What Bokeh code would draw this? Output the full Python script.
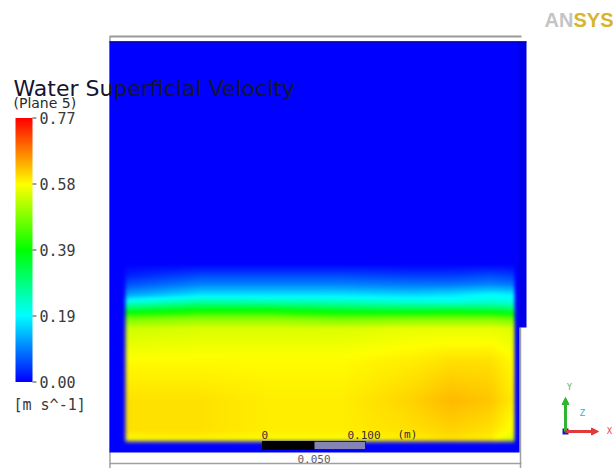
import numpy as np
from bokeh.plotting import figure
from bokeh.models import Range1d, Arrow, NormalHead
from bokeh.core.properties import value
from bokeh.embed import file_html
from bokeh.resources import INLINE

W, H = 613, 468
VMIN, VMAX = 0.0, 0.77

# ---------------- data ----------------
title = "Water Superficial Velocity"
subtitle = "(Plane 5)"
units = "[m s^-1]"
cbar_tick_values = [0.0, 0.1925, 0.385, 0.5775, 0.77]
cbar_tick_labels = ["0.00", "0.19", "0.39", "0.58", "0.77"]
scale_labels = ["0", "0.100", "(m)", "0.050"]
logo_parts = ["AN", "SYS"]

# coarse velocity grid inside the water region: columns (page x px), rows (page y px), m/s
field_x = [124, 200, 270, 340, 410, 450, 490, 514]
field_y = [41, 264, 274, 284, 294, 302, 310, 318, 328, 360, 400, 430, 452]
field_v = [
    [0.00, 0.00, 0.00, 0.00, 0.00, 0.00, 0.00, 0.00],
    [0.00, 0.00, 0.00, 0.00, 0.00, 0.00, 0.00, 0.00],
    [0.02, 0.05, 0.05, 0.05, 0.04, 0.04, 0.05, 0.04],
    [0.06, 0.10, 0.10, 0.10, 0.09, 0.09, 0.10, 0.09],
    [0.12, 0.17, 0.17, 0.17, 0.16, 0.17, 0.19, 0.18],
    [0.22, 0.27, 0.26, 0.25, 0.23, 0.22, 0.23, 0.22],
    [0.35, 0.39, 0.39, 0.36, 0.35, 0.36, 0.35, 0.33],
    [0.47, 0.49, 0.49, 0.47, 0.48, 0.48, 0.48, 0.46],
    [0.54, 0.55, 0.55, 0.55, 0.56, 0.56, 0.56, 0.55],
    [0.58, 0.58, 0.58, 0.58, 0.59, 0.60, 0.60, 0.58],
    [0.60, 0.60, 0.59, 0.59, 0.61, 0.63, 0.62, 0.59],
    [0.60, 0.60, 0.59, 0.59, 0.60, 0.61, 0.60, 0.57],
    [0.55, 0.56, 0.56, 0.56, 0.57, 0.58, 0.57, 0.50],
]
# wall boundaries of the water region (page px): left, right, bottom
wall_left, wall_right, wall_bottom = 125, 514, 441

# rainbow colour map stops (ANSYS default)
cmap_t = [0.0, 0.25, 0.5, 0.75, 1.0]
cmap_rgb = [(0, 0, 255), (0, 255, 255), (0, 255, 0), (255, 255, 0), (255, 0, 0)]


def Y(py):
    return H - py


def to_rgb(v):
    t = np.clip((np.asarray(v, float) - VMIN) / (VMAX - VMIN), 0, 1)
    return np.stack([np.interp(t, cmap_t, [c[k] for c in cmap_rgb]) for k in range(3)], axis=-1)


def blur(img, sigma):
    r = max(1, int(3 * sigma))
    k = np.exp(-0.5 * (np.arange(-r, r + 1) / sigma) ** 2)
    k /= k.sum()
    p = np.pad(img, ((r, r), (0, 0), (0, 0)), mode="edge")
    out = sum(k[i] * p[i:i + img.shape[0]] for i in range(2 * r + 1))
    p = np.pad(out, ((0, 0), (r, r), (0, 0)), mode="edge")
    out = sum(k[i] * p[:, i:i + img.shape[1]] for i in range(2 * r + 1))
    return out


def to_rgba32(rgb):
    h, w, _ = rgb.shape
    img = np.empty((h, w), dtype=np.uint32)
    view = img.view(dtype=np.uint8).reshape((h, w, 4))
    view[..., :3] = np.clip(np.round(rgb), 0, 255).astype(np.uint8)
    view[..., 3] = 255
    return img


def ramp(d, w):
    t = np.clip(0.5 + d / w, 0, 1)
    return t * t * (3 - 2 * t)


# ---------------- field image ----------------
x0, x1 = 109, 519
y0, y1 = 41, 452
fx = np.arange(x0, x1) + 0.5
fy = np.arange(y0, y1) + 0.5
fv = np.array(field_v, float)
rows_x = np.array([np.interp(fx, field_x, r) for r in fv])
grid = np.array([np.interp(fy, field_y, rows_x[:, j]) for j in range(len(fx))]).T
XX, YY = np.meshgrid(fx, fy)
mask = ramp(XX - wall_left, 6) * ramp(wall_right - XX, 4) * ramp(wall_bottom - YY, 7)
blue = np.array(cmap_rgb[0], float)
rgb = to_rgb(grid) * mask[..., None] + blue * (1 - mask[..., None])
rgb = blur(rgb, 1.3)
field_img = to_rgba32(rgb[::-1])

p = figure(width=W, height=H, x_range=Range1d(0, W), y_range=Range1d(0, H),
           output_backend="svg", toolbar_location=None, min_border=0,
           x_axis_location=None, y_axis_location=None)
p.grid.visible = False
p.outline_line_color = None
p.background_fill_color = "white"
p.border_fill_color = "white"

# frame (gray outline of the viewport)
p.line([109, 521], [Y(36), Y(36)], line_color="#9a9a9a", line_width=2)
p.line([109.5, 109.5], [Y(36), Y(468)], line_color="#a0a0a0", line_width=1.5)
p.line([520, 520], [Y(327), Y(468)], line_color="#a0a0a0", line_width=1.5)
p.line([109, 521], [Y(463), Y(463)], line_color="#a0a0a0", line_width=1.5)

p.image_rgba(image=[field_img], x=x0, y=Y(y1), dw=x1 - x0, dh=y1 - y0)
p.quad(left=518, right=526, top=Y(41), bottom=Y(327), fill_color="#0000e8", line_color=None)
p.line([109, 526], [Y(41.5), Y(41.5)], line_color="#0000c0", line_width=1.5)

# ---------------- colour bar ----------------
cb_top, cb_bot, cb_left, cb_right = 117.5, 381.5, 15, 32
cb_vals = np.linspace(VMAX, VMIN, int(cb_bot - cb_top))
cb_rgb = np.repeat(to_rgb(cb_vals)[:, None, :], cb_right - cb_left, axis=1)
cb_rgb = blur(cb_rgb, 0.8)
p.image_rgba(image=[to_rgba32(cb_rgb[::-1])], x=cb_left, y=Y(cb_bot),
             dw=cb_right - cb_left, dh=cb_bot - cb_top)


def cb_py(v):
    return cb_bot - (v - VMIN) / (VMAX - VMIN) * (cb_bot - cb_top)


tick_py = [cb_py(v) for v in cbar_tick_values]
p.segment(x0=[cb_right] * 5, x1=[cb_right + 4] * 5, y0=[Y(t) for t in tick_py],
          y1=[Y(t) for t in tick_py], line_color="#444444", line_width=1.2)
p.text(x=[cb_right + 7] * 5, y=[Y(t) for t in tick_py], text=cbar_tick_labels,
       text_font=value("DejaVu Sans Mono"), text_font_size="15px", text_color="#3a3a3a",
       text_baseline="middle", text_align="left")
p.text(x=[13], y=[Y(404)], text=[units], text_font=value("DejaVu Sans Mono"),
       text_font_size="15px", text_color="#3a3a3a", text_baseline="middle")

# titles
p.text(x=[13], y=[Y(88)], text=[title], text_font=value("DejaVu Sans"),
       text_font_size="22px", text_color="#151530", text_baseline="middle")
p.text(x=[13], y=[Y(102)], text=[subtitle], text_font=value("DejaVu Sans"),
       text_font_size="14px", text_color="#2a2a2a", text_baseline="middle")

# ---------------- scale bar ----------------
px_per_m = 1030.0
sb_left, sb_top, sb_bot = 262, 441, 449
sb_len = 0.100 * px_per_m
p.quad(left=sb_left, right=sb_left + sb_len, top=Y(sb_top), bottom=Y(sb_bot),
       fill_color="#8585b5", line_color="#222222", line_width=1)
p.quad(left=sb_left, right=sb_left + sb_len / 2, top=Y(sb_top), bottom=Y(sb_bot),
       fill_color="black", line_color="black", line_width=1)
p.text(x=[sb_left - 1, sb_left + sb_len - 18, sb_left + sb_len + 32], y=[Y(434)] * 3,
       text=scale_labels[:3], text_font=value("DejaVu Sans Mono"), text_font_size="11px",
       text_color="#303030", text_baseline="middle", text_align="left")
p.text(x=[sb_left + sb_len / 2], y=[Y(458)], text=[scale_labels[3]],
       text_font=value("DejaVu Sans Mono"), text_font_size="11px", text_color="#606060",
       text_baseline="middle", text_align="center")

# ---------------- ANSYS logo ----------------
p.text(x=[544], y=[Y(19)], text=[logo_parts[0]], text_font=value("Liberation Sans"),
       text_font_style="bold", text_font_size="20px", text_color="#c4c4c4",
       text_baseline="middle")
p.text(x=[573], y=[Y(19)], text=[logo_parts[1]], text_font=value("Liberation Sans"),
       text_font_style="bold", text_font_size="20px", text_color="#d7b42a",
       text_baseline="middle")

# ---------------- axis triad ----------------
ox, oy = 565, 431
p.add_layout(Arrow(end=NormalHead(size=7, fill_color="#2fb52f", line_color="#2fb52f"),
                   x_start=ox, y_start=Y(oy), x_end=ox, y_end=Y(397),
                   line_color="#2fb52f", line_width=3))
p.add_layout(Arrow(end=NormalHead(size=7, fill_color="#e03a3a", line_color="#e03a3a"),
                   x_start=ox, y_start=Y(oy), x_end=598, y_end=Y(oy),
                   line_color="#e03a3a", line_width=3))
p.scatter(x=[ox], y=[Y(oy)], marker="square", size=6, fill_color="#1020c0", line_color=None)
p.text(x=[569, 582, 609], y=[Y(387), Y(413), Y(431)], text=["Y", "Z", "X"],
       text_color=["#4cae4c", "#20bcbc", "#e04040"], text_font=value("DejaVu Sans"),
       text_font_size="8px", text_baseline="middle", text_align="center")

open("out.html", "w").write(file_html(p, INLINE))
